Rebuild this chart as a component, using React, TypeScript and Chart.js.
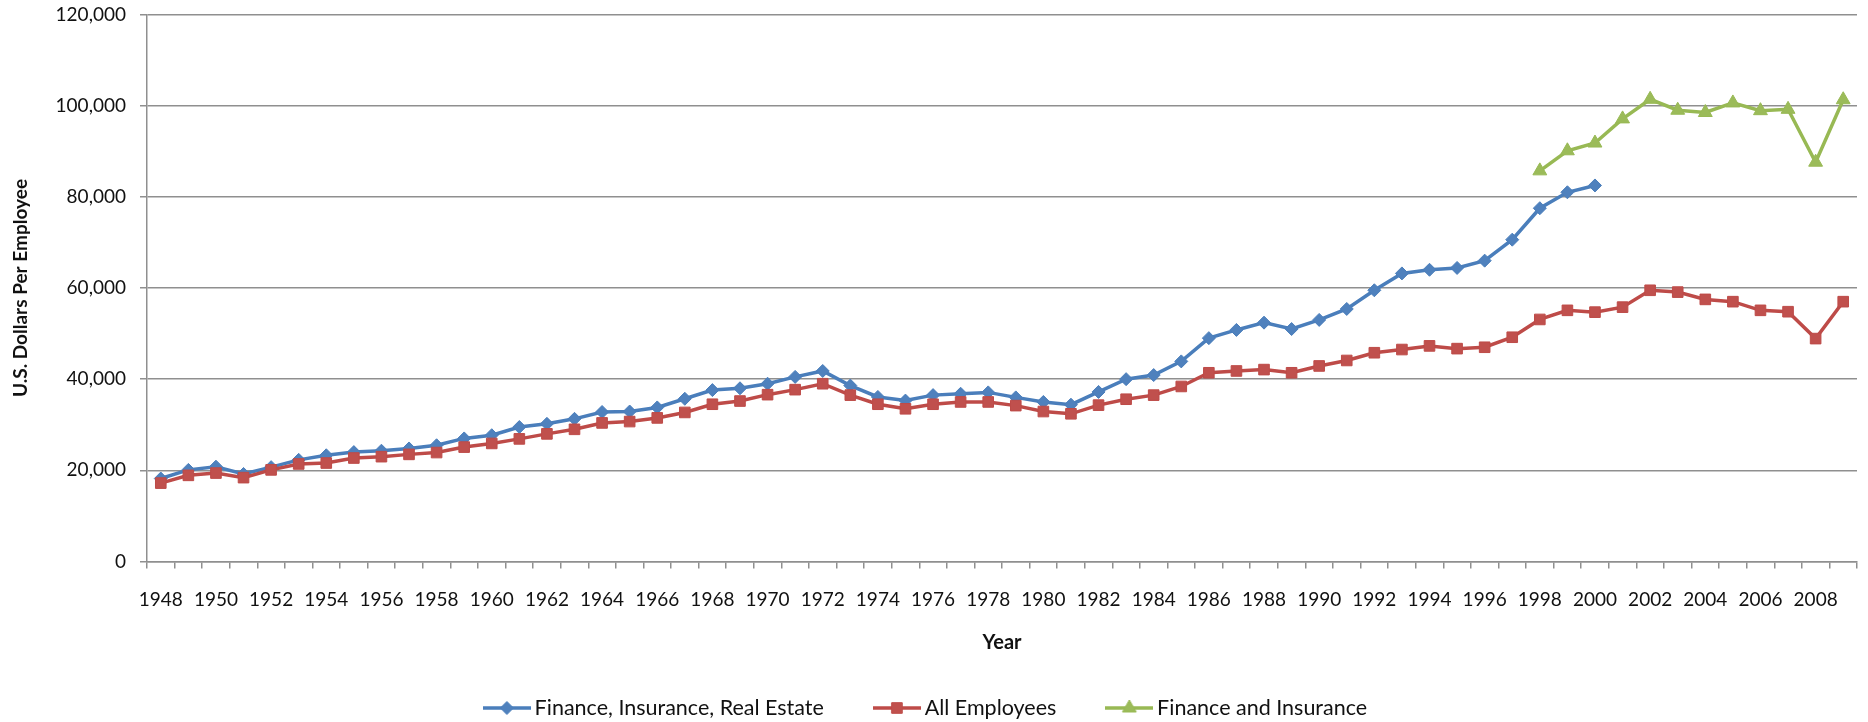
import React, { useEffect, useRef } from 'react';
import { Chart, registerables } from 'chart.js';

Chart.register(...registerables);

const years = [
  '1948', '1949', '1950', '1951', '1952', '1953', '1954', '1955', '1956', '1957',
  '1958', '1959', '1960', '1961', '1962', '1963', '1964', '1965', '1966', '1967',
  '1968', '1969', '1970', '1971', '1972', '1973', '1974', '1975', '1976', '1977',
  '1978', '1979', '1980', '1981', '1982', '1983', '1984', '1985', '1986', '1987',
  '1988', '1989', '1990', '1991', '1992', '1993', '1994', '1995', '1996', '1997',
  '1998', '1999', '2000', '2001', '2002', '2003', '2004', '2005', '2006', '2007',
  '2008', '2009',
];

// Finance, Insurance, Real Estate (1948-2000)
const fireValues = [
  18200, 20100, 20800, 19200, 20700, 22300, 23300, 24000, 24300, 24800,
  25500, 27000, 27700, 29500, 30200, 31300, 32800, 32900, 33800, 35700,
  37600, 38000, 39000, 40500, 41800, 38600, 36100, 35300, 36500, 36800,
  37100, 36000, 35000, 34400, 37200, 40000, 40900, 43900, 49000, 50800,
  52400, 51000, 53000, 55400, 59500, 63200, 64000, 64400, 66000, 70600,
  77500, 81000, 82500, null, null, null, null, null, null, null,
  null, null,
];

// All Employees (1948-2009)
const allEmployeesValues = [
  17200, 18900, 19400, 18400, 20100, 21400, 21600, 22700, 23000, 23500,
  23900, 25100, 25900, 26900, 28000, 29000, 30400, 30700, 31500, 32700,
  34500, 35200, 36600, 37700, 39000, 36500, 34500, 33500, 34500, 35000,
  35000, 34200, 32900, 32400, 34300, 35600, 36500, 38400, 41400, 41800,
  42100, 41400, 42900, 44100, 45800, 46500, 47300, 46700, 47000, 49200,
  53100, 55100, 54700, 55800, 59500, 59100, 57500, 57000, 55100, 54800,
  48900, 57000,
];

// Finance and Insurance (1998-2009)
const financeInsuranceValues = [
  null, null, null, null, null, null, null, null, null, null,
  null, null, null, null, null, null, null, null, null, null,
  null, null, null, null, null, null, null, null, null, null,
  null, null, null, null, null, null, null, null, null, null,
  null, null, null, null, null, null, null, null, null, null,
  85700, 90100, 91800, 97100, 101400, 99000, 98500, 100600, 98900, 99200,
  87600, 101300,
];

const seriesNames = ['Finance, Insurance, Real Estate', 'All Employees', 'Finance and Insurance'];
const yTickValues = [0, 20000, 40000, 60000, 80000, 100000, 120000];
const yAxisTitle = 'U.S. Dollars Per Employee';
const xAxisTitle = 'Year';

const BLUE_LINE = '#4A7EBB';
const BLUE_MARK = '#4F81BD';
const RED_LINE = '#BE4B48';
const RED_MARK = '#C0504D';
const GREEN_LINE = '#98B954';
const GREEN_MARK = '#9BBB59';
const GRID = '#8f8f8f';
const TEXT = '#111111';
const FONT = 'Lato';

function makeLegendSymbol(lineColor: string, markColor: string, style: string, r: number) {
  const c = document.createElement('canvas');
  c.width = 48;
  c.height = 18;
  const ctx = c.getContext('2d')!;
  const cy = 9;
  const cx = 24;
  ctx.strokeStyle = lineColor;
  ctx.lineWidth = 3.5;
  ctx.beginPath();
  ctx.moveTo(0, cy);
  ctx.lineTo(48, cy);
  ctx.stroke();
  ctx.fillStyle = markColor;
  ctx.strokeStyle = lineColor;
  ctx.lineWidth = 1;
  ctx.beginPath();
  if (style === 'rectRot') {
    ctx.moveTo(cx, cy - r);
    ctx.lineTo(cx + r, cy);
    ctx.lineTo(cx, cy + r);
    ctx.lineTo(cx - r, cy);
  } else if (style === 'rect') {
    const s = r * Math.SQRT1_2;
    ctx.rect(cx - s, cy - s, 2 * s, 2 * s);
  } else {
    const w = r * Math.sin((2 * Math.PI) / 3);
    ctx.moveTo(cx, cy - r);
    ctx.lineTo(cx + w, cy + r / 2);
    ctx.lineTo(cx - w, cy + r / 2);
  }
  ctx.closePath();
  ctx.fill();
  ctx.stroke();
  return c;
}

export default function App() {
  const canvasRef = useRef<HTMLCanvasElement | null>(null);

  useEffect(() => {
    document.body.style.margin = '0';
    const canvas = canvasRef.current;
    if (!canvas) return;

    const markers = [
      { style: 'rectRot', r: 6.5, line: BLUE_LINE, mark: BLUE_MARK },
      { style: 'rect', r: 7.5, line: RED_LINE, mark: RED_MARK },
      { style: 'triangle', r: 8, line: GREEN_LINE, mark: GREEN_MARK },
    ];
    const symbols = markers.map((m) => makeLegendSymbol(m.line, m.mark, m.style, m.r));
    const seriesData = [fireValues, allEmployeesValues, financeInsuranceValues];

    const chart = new Chart(canvas, {
      type: 'line',
      data: {
        labels: years,
        datasets: seriesData.map((d, i) => ({
          label: seriesNames[i],
          data: d,
          borderColor: markers[i].line,
          backgroundColor: markers[i].mark,
          borderWidth: 3.5,
          tension: 0,
          spanGaps: false,
          pointStyle: markers[i].style as any,
          pointRadius: markers[i].r,
          pointHoverRadius: markers[i].r,
          pointBackgroundColor: markers[i].mark,
          pointBorderColor: markers[i].line,
          pointBorderWidth: 1,
          order: 3 - i,
        })),
      },
      options: {
        responsive: false,
        maintainAspectRatio: false,
        animation: false,
        devicePixelRatio: 1,
        layout: { padding: { left: 0, right: 11, top: 14.5, bottom: -6.75 } },
        plugins: {
          tooltip: { enabled: false },
          legend: {
            display: true,
            position: 'bottom',
            align: 'center',
            labels: {
              usePointStyle: true,
              pointStyleWidth: 34,
              padding: 56,
              color: TEXT,
              font: { family: FONT, size: 21.5 },
              sort: (a: any, b: any) => a.datasetIndex - b.datasetIndex,
              generateLabels: (ch: any) => {
                const items = Chart.defaults.plugins.legend.labels.generateLabels(ch);
                items.forEach((it: any) => {
                  it.pointStyle = symbols[it.datasetIndex];
                  it.fontColor = TEXT;
                });
                return items;
              },
            },
          },
        },
        scales: {
          x: {
            type: 'category',
            offset: true,
            afterFit: (scale: any) => {
              scale.height = 79.75;
            },
            grid: {
              display: true,
              drawOnChartArea: false,
              drawTicks: true,
              tickLength: 7,
              offset: true,
              color: GRID,
              lineWidth: 1.5,
            },
            border: { display: true, color: GRID, width: 1.5 },
            ticks: {
              autoSkip: false,
              maxRotation: 0,
              minRotation: 0,
              padding: 20,
              color: TEXT,
              font: { family: FONT, size: 19 },
              callback: function (this: any, value: any, index: number) {
                return index % 2 === 0 ? this.getLabelForValue(value) : '';
              },
            },
            title: {
              display: true,
              text: xAxisTitle,
              color: TEXT,
              font: { family: FONT, size: 20, weight: 'bold' },
              padding: { top: 0, bottom: -13.75 },
            },
          },
          y: {
            min: yTickValues[0],
            max: yTickValues[yTickValues.length - 1],
            afterFit: (scale: any) => {
              scale.width = 147;
              scale.paddingTop = 0;
              scale.paddingBottom = 0;
            },
            afterBuildTicks: (scale: any) => {
              scale.ticks = yTickValues.map((v) => ({ value: v }));
            },
            grid: {
              display: true,
              drawTicks: true,
              tickLength: 7,
              color: GRID,
              lineWidth: 1.5,
            },
            border: { display: true, color: GRID, width: 1.5 },
            ticks: {
              padding: 14,
              color: TEXT,
              font: { family: FONT, size: 19 },
              callback: (v: any) => Number(v).toLocaleString('en-US'),
            },
            title: {
              display: true,
              text: yAxisTitle,
              color: TEXT,
              font: { family: FONT, size: 19, weight: 'bold' },
              padding: { top: 9, bottom: 0 },
            },
          },
        },
      },
    });

    return () => {
      chart.destroy();
    };
  }, []);

  return (
    <div style={{ position: 'fixed', left: 0, top: 0, width: 1868, height: 722, background: '#ffffff' }}>
      <canvas ref={canvasRef} width={1868} height={722} style={{ width: 1868, height: 722, display: 'block' }} />
    </div>
  );
}
